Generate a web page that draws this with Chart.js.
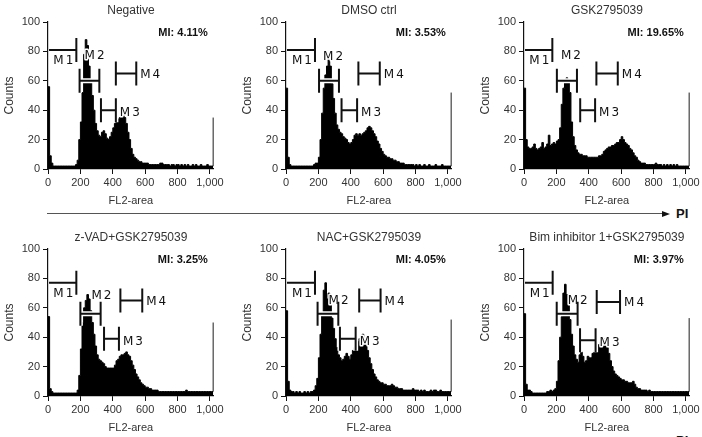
<!DOCTYPE html>
<html>
<head>
<meta charset="utf-8">
<script src="https://cdn.jsdelivr.net/npm/chart.js@4.4.1/dist/chart.umd.min.js"></script>
<style>
  html, body { margin: 0; padding: 0; background: #fff; }
  body { width: 702px; height: 437px; position: relative; overflow: hidden; font-family: "Liberation Sans", Arial, sans-serif; }
  canvas { position: absolute; }
  .axisline { position: absolute; height: 1px; background: #555; }
  .arrowhead { position: absolute; width: 0; height: 0; border-top: 3px solid transparent; border-bottom: 3px solid transparent; border-left: 8px solid #111; }
  .pi { position: absolute; font-weight: bold; font-size: 13px; color: #111; line-height: 14px; }
</style>
</head>
<body>
<div class="axisline" style="left:47px; top:213px; width:617px;"></div>
<div class="arrowhead" style="left:662px; top:211px;"></div>
<div class="pi" style="left:676px; top:207px;">PI</div>
<div class="axisline" style="left:640px; top:437px; width:24px;"></div>
<div class="pi" style="left:676px; top:434px;">PI</div>

<canvas id="c0" width="226" height="210" style="left:0px; top:0px;"></canvas>
<canvas id="c1" width="226" height="210" style="left:238px; top:0px;"></canvas>
<canvas id="c2" width="226" height="210" style="left:476px; top:0px;"></canvas>
<canvas id="c3" width="226" height="210" style="left:0px; top:227px;"></canvas>
<canvas id="c4" width="226" height="210" style="left:238px; top:227px;"></canvas>
<canvas id="c5" width="226" height="210" style="left:476px; top:227px;"></canvas>

<script>
// ---------------- DATA ----------------
const BIN_WIDTH = 10; // FL2-area channel bin width
const X_TICKS = [0, 200, 400, 600, 800, 1000];
const Y_TICKS = [0, 20, 40, 60, 80, 100];
const PANEL_TITLES = ['Negative', 'DMSO ctrl', 'GSK2795039', 'z-VAD+GSK2795039', 'NAC+GSK2795039', 'Bim inhibitor 1+GSK2795039'];
const MI_VALUES = ['4.11%', '3.53%', '19.65%', '3.25%', '4.05%', '3.97%'];
const GATE_NAMES = ['M1', 'M2', 'M3', 'M4'];

// counts per bin (bins start at 0, 10, 20, ... 1020)
const NEGATIVE = [56,9,4,2,2,2,2,2,2,2,2,2,2,2,2,2,2,3,6,20,32,52,78,88,84,70,60,50,40,31,26,23,22,25,26,24,21,20,22,25,28,31,33,34,35,36,37,35,31,25,20,14,10,8,7,6,5,5,4,4,4,4,3,3,3,3,3,3,3,4,4,3,3,3,3,2,3,3,2,3,3,2,3,2,3,2,3,2,2,3,2,3,2,2,3,2,2,2,3,2,2,2,35];
const DMSO_CTRL = [55,8,3,2,2,2,2,2,2,2,2,2,2,2,2,2,2,3,4,4,8,20,38,55,64,70,76,70,58,48,38,30,27,25,24,22,21,20,18,17,18,20,23,24,23,24,23,24,25,26,28,29,28,26,24,22,19,17,14,12,10,9,8,8,7,7,6,6,5,5,4,4,4,3,3,3,3,3,3,2,3,2,3,2,2,3,2,2,3,2,2,2,3,2,2,2,3,2,2,2,2,2,52];
const GSK = [55,20,15,14,14,15,17,14,13,14,15,18,14,15,17,23,16,17,18,17,19,20,28,44,55,60,62,60,52,32,22,16,13,11,10,10,9,9,9,8,8,8,8,8,8,8,9,9,10,12,13,14,15,15,16,16,17,18,18,20,22,20,18,17,16,14,13,11,9,8,6,5,4,4,4,3,3,3,3,3,3,4,3,3,3,2,3,2,3,2,3,2,3,2,3,2,2,2,2,2,2,2,52];
const ZVAD_GSK = [54,5,3,2,2,2,2,2,2,2,2,2,2,2,2,2,2,2,4,14,32,50,60,65,69,66,58,50,42,34,28,25,24,23,22,20,19,19,19,19,19,21,24,25,27,28,28,29,30,28,27,24,21,18,15,13,11,9,8,7,6,6,5,5,4,4,4,4,3,3,3,3,3,3,3,3,3,3,3,3,3,3,3,3,3,4,3,3,3,3,3,3,3,3,3,3,3,3,3,3,3,3,50];
const NAC_GSK = [58,10,4,3,3,2,3,2,3,2,2,3,2,3,2,3,3,4,7,12,26,42,56,72,77,66,70,62,53,46,39,33,28,26,24,25,27,29,27,25,28,31,33,35,37,39,41,42,39,36,31,26,22,18,15,13,11,10,9,9,8,8,7,7,7,8,7,6,6,5,5,5,4,4,4,4,4,4,5,4,4,4,3,4,3,4,3,3,3,4,3,4,4,3,3,4,3,3,3,3,3,3,52];
const BIM_GSK = [56,8,4,4,3,2,2,2,2,2,2,2,2,2,3,3,4,3,4,5,10,24,40,54,70,76,69,64,52,42,34,28,25,23,28,30,27,23,24,27,26,26,29,31,32,34,35,37,40,39,36,33,29,24,20,17,15,14,13,12,11,11,10,10,9,9,9,10,8,6,5,5,4,4,4,4,3,4,3,3,3,3,3,3,3,3,3,3,3,3,3,3,3,3,3,3,3,3,3,3,3,3,53];

// gates [start, end, level] in data units (FL2-area, counts)
const NEGATIVE_GATES = [[0,175,81],[195,317,60],[327,419,40],[419,545,65]];
const DMSO_CTRL_GATES = [[0,179,81],[204,327,60],[343,439,40],[447,579,65]];
const GSK_GATES = [[0,175,81],[203,327,60],[347,439,40],[447,579,65]];
const ZVAD_GSK_GATES = [[0,175,77],[200,325,56],[346,438,39],[447,582,65]];
const NAC_GSK_GATES = [[0,179,77],[195,323,56],[333,430,39],[452,584,65]];
const BIM_GSK_GATES = [[0,177,77],[202,331,56],[346,442,38],[449,593,64]];

const SERIES = [NEGATIVE, DMSO_CTRL, GSK, ZVAD_GSK, NAC_GSK, BIM_GSK];
const GATES = [NEGATIVE_GATES, DMSO_CTRL_GATES, GSK_GATES, ZVAD_GSK_GATES, NAC_GSK_GATES, BIM_GSK_GATES];

// ---------------- STYLE ----------------
const FONT = '"Liberation Sans", Arial, sans-serif';
const M2_LABEL_LIFT = [25, 24, 25, 18, 13, 13];
const M2_LABEL_SHIFT = [5, 4, 4, 11, 11, 11];

function gateLabelPos(idx, gi, x1, x2, y) {
  if (gi === 0) return { align: 'right', x: x2 - 1, y: y + 11 };
  if (gi === 1) return { align: 'left', x: x1 + M2_LABEL_SHIFT[idx], y: y - M2_LABEL_LIFT[idx] };
  if (gi === 2) return { align: 'left', x: x2 + 4, y: y + 3 };
  return { align: 'left', x: x2 + 4, y: y + 1 };
}

function panelPlugin(idx) {
  return {
    id: 'panelDecor' + idx,
    afterDatasetsDraw(chart) {
      const ctx = chart.ctx;
      const xs = chart.scales.x, ys = chart.scales.y;
      const area = chart.chartArea;
      ctx.save();
      // panel title
      ctx.fillStyle = '#333';
      ctx.font = '12px ' + FONT;
      ctx.textAlign = 'center';
      ctx.textBaseline = 'middle';
      ctx.fillText(PANEL_TITLES[idx], (area.left + area.right) / 2, area.top - 11);
      // MI text
      ctx.fillStyle = '#111';
      ctx.font = 'bold 11px ' + FONT;
      ctx.textAlign = 'right';
      ctx.fillText('MI: ' + MI_VALUES[idx], area.right - 6, area.top + 11);
      // gates: white halo pass, then black pass
      ctx.font = '12px "DejaVu Sans", sans-serif';
      if ('letterSpacing' in ctx) ctx.letterSpacing = '2px';
      ctx.textBaseline = 'middle';
      ctx.lineJoin = 'round';
      [['#fff', 5, true], ['#111', 2, false]].forEach(([color, lw, halo]) => {
        GATES[idx].forEach((g, gi) => {
          const x1 = xs.getPixelForValue(g[0]);
          const x2 = xs.getPixelForValue(g[1]);
          const y = ys.getPixelForValue(g[2]);
          ctx.strokeStyle = color;
          ctx.lineWidth = lw;
          ctx.beginPath();
          ctx.moveTo(Math.max(x1, area.left + 1), y); ctx.lineTo(x2, y);
          ctx.moveTo(x2, y - 12); ctx.lineTo(x2, y + 12);
          if (g[0] > 0) { ctx.moveTo(x1, y - 12); ctx.lineTo(x1, y + 12); }
          ctx.stroke();
          const p = gateLabelPos(idx, gi, x1, x2, y);
          ctx.textAlign = p.align;
          if (halo) {
            ctx.lineWidth = 3;
            ctx.strokeText(GATE_NAMES[gi], p.x, p.y);
          } else {
            ctx.fillStyle = '#111';
            ctx.fillText(GATE_NAMES[gi], p.x, p.y);
          }
        });
      });
      ctx.restore();
    }
  };
}

SERIES.forEach((counts, idx) => {
  const points = counts.map((v, i) => ({ x: i * BIN_WIDTH, y: v }));
  new Chart(document.getElementById('c' + idx), {
    type: 'line',
    data: { datasets: [{
      data: points,
      stepped: true,
      fill: 'origin',
      backgroundColor: '#000',
      borderColor: '#000',
      borderWidth: 1,
      pointRadius: 0,
      tension: 0
    }] },
    options: {
      responsive: false,
      animation: false,
      events: [],
      layout: { padding: { top: 22, right: 12, left: 0, bottom: 0 } },
      plugins: { legend: { display: false }, tooltip: { enabled: false }, title: { display: false } },
      scales: {
        x: {
          type: 'linear', min: 0, max: 1024,
          afterBuildTicks: s => { s.ticks = X_TICKS.map(v => ({ value: v })); },
          afterFit: s => { s.height = 41; },
          ticks: { callback: v => v.toLocaleString('en-US'), font: { family: FONT, size: 11 }, color: '#333', maxRotation: 0, autoSkip: false, padding: 2 },
          grid: { display: true, drawOnChartArea: false, drawTicks: true, tickLength: 5, color: '#111', lineWidth: 1 },
          border: { display: true, color: '#111', width: 1.2 },
          title: { display: true, text: 'FL2-area', font: { family: FONT, size: 11 }, color: '#333', padding: { top: 2, bottom: 2 } }
        },
        y: {
          min: 0, max: 100,
          afterBuildTicks: s => { s.ticks = Y_TICKS.map(v => ({ value: v })); },
          afterFit: s => { s.width = 48; },
          ticks: { font: { family: FONT, size: 11 }, color: '#333', padding: 3 },
          grid: { display: true, drawOnChartArea: false, drawTicks: true, tickLength: 5, color: '#111', lineWidth: 1 },
          border: { display: true, color: '#111', width: 1.2 },
          title: { display: true, text: 'Counts', font: { family: FONT, size: 12 }, color: '#333', padding: { top: 2, bottom: 2 } }
        }
      }
    },
    plugins: [panelPlugin(idx)]
  });
});
</script>
</body>
</html>
